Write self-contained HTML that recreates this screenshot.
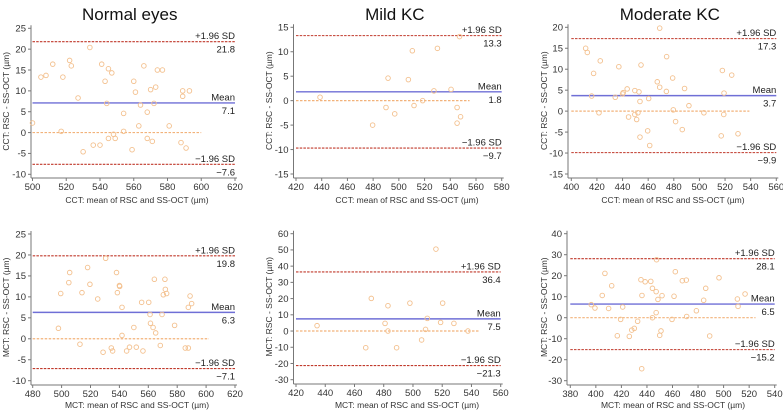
<!DOCTYPE html>
<html><head><meta charset="utf-8">
<style>
body{margin:0;background:#fff;}
svg{display:block;font-family:"Liberation Sans",sans-serif;}
</style></head>
<body>
<svg id="chart" width="783" height="410" viewBox="0 0 783 410" xmlns="http://www.w3.org/2000/svg"></svg>
<script>
// ---- data ----
const p1X=[500,505,508,512,517,518,522,523,527,530,534,536,540,541,543,544,545,545,547,548,549,554,554,559,560,561,563,564,566,568,568,570,571,572,573,574,577,581,588,589,589,591,593];
const p1Y=[2.3,13.3,13.7,16.4,0.3,13.3,17.3,16,8.3,-4.6,20.4,-3,-3,16.4,12.3,7,15.3,-1.4,14.3,-0.4,-1.4,4.6,0.3,-4.1,12.3,9.7,1.6,6.6,16,-1.4,4.9,10.3,-2.1,7,10.9,15,15,1.6,-2.4,10,8.7,-3.7,10];
const p2X=[497.8,499.4,505,505.6,512.7,514.1,518,519.6,525,528.7,530.5,534.4,535.3,538,538.6,540,540.2,541.8,541.8,545,547,550,551.7,555.4,556.3,560.3,561.2,561.5,563.3,564.2,565.1,568.3,569.5,570.4,571.5,571.8,572.7,578.2,585.6,587.7,587.7,588.9,590];
const p2Y=[2.5,10.8,13.4,15.8,-1.3,11,17,13,9.5,-3.2,19.2,-2.2,-2.9,15.8,11,12.7,12.5,7.5,0.8,-2.9,-2,2.7,-2,8.7,-2.9,8.7,5.8,3.7,2.7,14.2,1.4,-1.6,5.8,10.5,14.2,11.8,10.8,3.2,-2.2,-2.2,7.5,10.2,8.4];
const p3X=[438.7,479.6,490,491.6,496.8,507.4,510.5,511.8,518.5,527.3,530,540.6,545.3,545.3,547.2,548];
const p3Y=[0.7,-5,-1.4,4.6,-2.7,4.3,10.2,-1,0,2,10.7,2.3,-1.4,-4.6,13.1,-3.3];
const p4X=[434.4,467.7,471.5,480.9,482.9,482.9,488.8,497.9,505.9,508.6,509.8,515.7,518.9,520.3,528,537.6];
const p4Y=[3.3,-10.3,20.1,4.7,15.6,0,-10.3,17.2,-5.5,1,7.8,50.5,5.3,17.2,4.7,0];
const p5X=[411.2,412.5,415.9,417.4,421.6,422.6,434.3,437.1,440,440.5,443.6,444.7,449.6,449.6,451,452,452.8,453.6,453.6,454.4,459.6,460.4,461.2,467.1,469,469,474.2,474.4,479.1,479.6,481.4,486.6,488.4,491.8,503.5,517,517.9,519.2,519,525.2,530.1];
const p5Y=[15,14,3.6,9,-0.4,12,3.3,10.6,4.1,4.4,5.3,-1.4,4.9,-0.8,-2,-0.4,4.6,2.3,-6.2,11,-4.7,3,-8.2,7,5.7,19.8,4.7,13,7.9,0.3,-2.5,-4.4,5.4,1.3,-0.4,-5.9,9.7,4.3,-0.8,8.6,-5.4];
const p6X=[396.4,399.3,405,407.1,410,412.4,416.8,419.4,421,426.2,428.1,430.1,432.7,435.3,436.1,435.9,438.6,443,444.3,444.3,447.2,447.2,447.5,448.6,450,451,451.8,459.6,461.2,462.2,467.7,470.8,471.1,478.7,484.4,486,489.1,496.4,510.8,511.3,516.8];
const p6Y=[6.2,4.6,10.6,21.1,4.4,15.2,-8.6,-0.8,5.1,-8.9,-5.9,-5.1,-1.7,18.1,10.6,-24.3,17.1,17.3,14,0,12.4,2.4,27.6,8.7,-8.4,-6.3,10.5,-0.8,10.2,21.9,17.6,17.9,0.6,3.3,8.3,14,-8.7,19,8.9,5.4,11.3];
const meanVals=[7.1,6.3,1.8,7.5,3.7,6.5];
const upperVals=[21.8,19.8,13.3,36.4,17.3,28.1];
const lowerVals=[-7.6,-7.1,-9.7,-21.3,-9.9,-15.2];
const zeroEnd=[600,602,555,545,539,525];
const xTicks1=[500,520,540,560,580,600,620];
const xTicks2=[480,500,520,540,560,580,600,620];
const xTicks3=[420,440,460,480,500,520,540,560,580];
const xTicks4=[420,440,460,480,500,520,540,560];
const xTicks5=[400,420,440,460,480,500,520,540,560];
const xTicks6=[380,400,420,440,460,480,500,520,540];
const yTicks1=[-10,-5,0,5,10,15,20,25];
const yTicks2=[-10,-5,0,5,10,15,20,25];
const yTicks3=[-15,-10,-5,0,5,10,15];
const yTicks4=[-30,-20,-10,0,10,20,30,40,50,60];
const yTicks5=[-15,-10,-5,0,5,10,15,20];
const yTicks6=[-30,-20,-10,0,10,20,30,40];
const titles=["Normal eyes","","Mild KC","","Moderate KC",""];

// ---- layout (pixel geometry only) ----
const geo=[
 {x0:32.5,x1:235,y0:174.3,y1:28.3,ax:31,ay:178,ty:203,yt:7,tx:137},
 {x0:32.7,x1:235,y0:380.7,y1:234,ax:31,ay:385,ty:408,yt:7,tx:137},
 {x0:296,x1:501.7,y0:174,y1:27.3,ax:293.5,ay:178,ty:203,yt:270,tx:407},
 {x0:296,x1:500.7,y0:379.7,y1:233.7,ax:293.5,ay:384,ty:408,yt:270,tx:407},
 {x0:571.3,x1:776.3,y0:174,y1:27.3,ax:568,ay:178,ty:203,yt:545,tx:673},
 {x0:570.3,x1:774.7,y0:380.7,y1:233.7,ax:567,ay:385,ty:408,yt:545,tx:673}
];
const xs=[p1X,p2X,p3X,p4X,p5X,p6X], ys=[p1Y,p2Y,p3Y,p4Y,p5Y,p6Y];
const xts=[xTicks1,xTicks2,xTicks3,xTicks4,xTicks5,xTicks6], yts=[yTicks1,yTicks2,yTicks3,yTicks4,yTicks5,yTicks6];
const pre=["CCT","MCT","CCT","MCT","CCT","MCT"];
const panelNames=["normal-cct","normal-mct","mild-kc-cct","mild-kc-mct","moderate-kc-cct","moderate-kc-mct"];

const svg=document.getElementById('chart');
const NS="http://www.w3.org/2000/svg";
function mk(tag,attrs,parent,text){const e=document.createElementNS(NS,tag);for(const k in attrs)e.setAttribute(k,attrs[k]);if(text!==undefined)e.textContent=text;parent.appendChild(e);return e;}

for(let i=0;i<6;i++){
  const g=geo[i], xt=xts[i], yt=yts[i];
  const xmin=xt[0], xmax=xt[xt.length-1], ymin=yt[0], ymax=yt[yt.length-1];
  const X=v=>g.x0+(v-xmin)/(xmax-xmin)*(g.x1-g.x0);
  const Y=v=>g.y0+(v-ymin)/(ymax-ymin)*(g.y1-g.y0);
  const grp=mk('g',{},svg);
  
  
  if(titles[i]){
    const t=mk('text',{x:(g.x0+g.x1)/2-4,y:20,'font-size':17,'text-anchor':'middle',fill:'#111'},grp,titles[i]);
    
    
  }
  // axes
  const ya=mk('line',{x1:g.ax,y1:g.y1-3,x2:g.ax,y2:g.ay,stroke:'#777','stroke-width':1},grp);
  
  
  const xa=mk('line',{x1:g.ax,y1:g.ay,x2:g.x1+2,y2:g.ay,stroke:'#777','stroke-width':1},grp);
  
  
  yt.forEach(v=>{
    mk('line',{x1:g.ax-3,x2:g.ax,y1:Y(v),y2:Y(v),stroke:'#777'},grp);
    const l=mk('text',{x:g.ax-5,y:Y(v)+3.3,'font-size':9.5,'text-anchor':'end',fill:'#333'},grp,String(v));
    
    
  });
  xt.forEach(v=>{
    mk('line',{x1:X(v),x2:X(v),y1:g.ay,y2:g.ay+3,stroke:'#777'},grp);
    const l=mk('text',{x:X(v),y:g.ay+12,'font-size':9.5,'text-anchor':'middle',fill:'#333'},grp,String(v));
    
    
  });
  const xtitle=mk('text',{x:g.tx,y:g.ty,'font-size':8.5,'text-anchor':'middle',fill:'#333'},grp,pre[i]+': mean of RSC and SS-OCT (\u00b5m)');
  
  
  const cy=(g.y0+g.y1)/2;
  const ytitle=mk('text',{x:g.yt,y:cy,'font-size':8.5,'text-anchor':'middle',fill:'#333',transform:`rotate(-90 ${g.yt} ${cy})`,'dominant-baseline':'middle'},grp,pre[i]+': RSC - SS-OCT (\u00b5m)');
  
  
  // zero line
  const z=mk('line',{x1:X(xmin),x2:X(zeroEnd[i]),y1:Y(0),y2:Y(0),stroke:'#f2b27a','stroke-width':1.2,'stroke-dasharray':'2.5 1.5'},grp);
  
  
  // limits
  [[upperVals[i],'+1.96 SD','upper-loa'],[meanVals[i],'Mean','mean-line'],[lowerVals[i],'\u22121.96 SD','lower-loa']].forEach(([v,lab,nm],k)=>{
    const isMean=k===1;
    const ln=mk('line',{x1:X(xmin),x2:X(xmax),y1:Y(v),y2:Y(v),stroke:isMean?'#6f6fd6':'#c0392b','stroke-width':isMean?1.4:1.1,'stroke-dasharray':isMean?'none':'2.5 1.2'},grp);
    
    
    const t1=mk('text',{x:X(xmax),y:Y(v)-2.5,'font-size':9.5,'text-anchor':'end',fill:'#222'},grp,lab);
    
    
    const t2=mk('text',{x:X(xmax),y:Y(v)+11,'font-size':9.5,'text-anchor':'end',fill:'#222'},grp,(v<0?'\u2212'+Math.abs(v).toFixed(1):v.toFixed(1)));
    
    
  });
  // points
  xs[i].forEach((xv,j)=>{
    const c=mk('circle',{cx:X(xv),cy:Y(ys[i][j]),r:2.3,fill:'none',stroke:'#f3c08e','stroke-width':0.9},grp);
    
    
  });
}
</script>
</body></html>
